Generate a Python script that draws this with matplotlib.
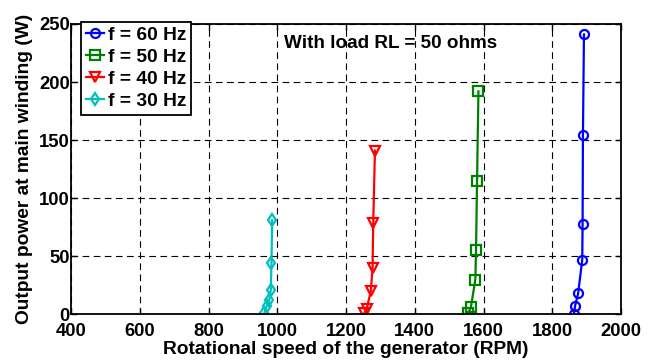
import matplotlib
matplotlib.use('Agg')
from matplotlib import pyplot as plt

# speed (RPM) and output power (W) for each supply frequency
rpm_60 = [1862, 1866, 1875, 1887, 1888, 1889, 1892]
pow_60 = [0, 7, 18, 47, 78, 154, 241]
rpm_50 = [1555, 1563, 1576, 1578, 1581, 1585]
pow_50 = [1, 6, 30, 55, 115, 192]
rpm_40 = [1253, 1260, 1272, 1277, 1279, 1284]
pow_40 = [1, 5, 20, 40, 79, 141]
rpm_30 = [962, 969, 976, 981, 983, 985]
pow_30 = [1, 7, 12, 21, 44, 81]

labels = ['f = 60 Hz', 'f = 50 Hz', 'f = 40 Hz', 'f = 30 Hz']
x_ticks = [400, 600, 800, 1000, 1200, 1400, 1600, 1800, 2000]
y_ticks = [0, 50, 100, 150, 200, 250]

plt.rcParams['font.family'] = ['Liberation Sans', 'DejaVu Sans']
plt.rcParams['font.weight'] = 'bold'

fig = plt.figure(figsize=(6.52, 3.63), dpi=100)
ax = fig.add_axes([0.109, 0.134, 0.8436, 0.8])

style = dict(lw=1.6, ms=6.5, mew=1.6, mfc='none')
ax.plot(rpm_60, pow_60, '-o', color=(0, 0, 1), label=labels[0], **style)
ax.plot(rpm_50, pow_50, '-s', color=(0, 0.5, 0), label=labels[1], **style)
ax.plot(rpm_40, pow_40, '-v', color=(1, 0, 0), label=labels[2], **style)
ax.plot(rpm_30, pow_30, '-d', color=(0, 0.75, 0.75), label=labels[3], **style)

ax.set_xlim(400, 2000)
ax.set_ylim(0, 250)
ax.set_xticks(x_ticks)
ax.set_yticks(y_ticks)
ax.grid(True, color='black', linestyle=(0, (6, 4)), linewidth=0.8)
ax.tick_params(direction='in', top=True, right=True, length=4, width=1,
               labelsize=13.3)
ax.tick_params(axis='x', pad=6.5)
ax.tick_params(axis='y', pad=1)
for lab in ax.get_xticklabels() + ax.get_yticklabels():
    lab.set_fontweight('bold')
for s in ax.spines.values():
    s.set_linewidth(1.3)

ax.set_xlabel('Rotational speed of the generator (RPM)', fontsize=13.8,
              fontweight='bold', labelpad=0.5)
ax.set_ylabel('Output power at main winding (W)', fontsize=13.8,
              fontweight='bold', labelpad=4)

ax.text(1018, 233, 'With load RL = 50 ohms', fontsize=13.6, fontweight='bold',
        va='center', ha='left')

leg = ax.legend(loc='upper left', bbox_to_anchor=(0.018, 1.007), fancybox=False,
                edgecolor='black', framealpha=1, fontsize=13.8, handlelength=0.96,
                handletextpad=0.2, borderpad=0.25, labelspacing=0.24,
                borderaxespad=0)
leg.get_frame().set_linewidth(1.3)
for t in leg.get_texts():
    t.set_fontweight('bold')

fig.savefig('out.png', dpi=100)
